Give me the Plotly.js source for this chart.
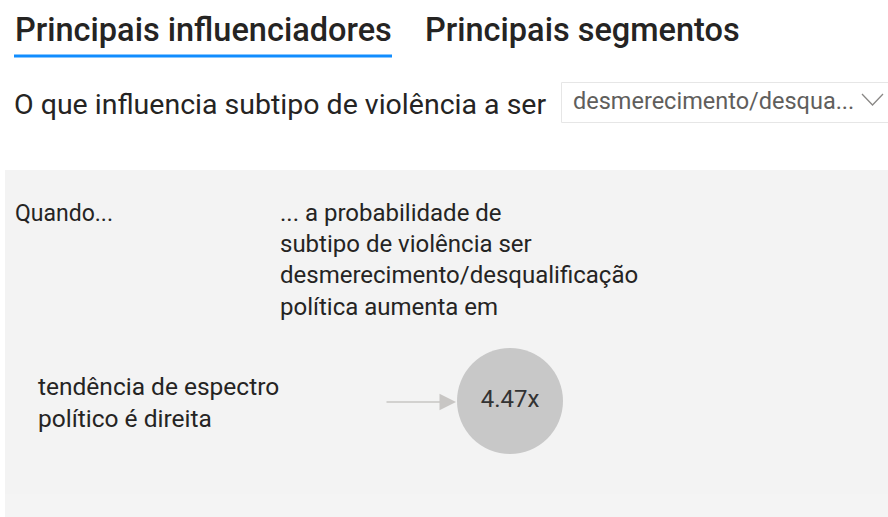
<!DOCTYPE html>
<html>
<head>
<meta charset="utf-8">
<script src="https://cdn.plot.ly/plotly-3.0.1.min.js"></script>
<style>
  html, body { margin: 0; padding: 0; background: #ffffff; }
  #chart { width: 888px; height: 517px; }
</style>
</head>
<body>
<div id="chart"></div>
<script>
// ---- data ----
const tabs = ['Principais influenciadores', 'Principais segmentos'];
const activeTab = 0;
const questionPrefix = 'O que influencia subtipo de violência a ser';
const selectedTarget = 'desmerecimento/desqua...';
const colWhen = 'Quando...';
const colEffect = ['... a probabilidade de', 'subtipo de violência ser', 'desmerecimento/desqualificação', 'política aumenta em'];
const influencers = [['tendência de espectro', 'político é direita']];
const multipliers = [4.47];

// ---- style ----
const FONT = 'Roboto, "Noto Sans", sans-serif';
const TXT = '#252423';
const W = 888, H = 517;
const rowTop = 401, rowStep = 110, bubbleX = 510;

const shapes = [
  // panel
  {type: 'rect', xref: 'x', yref: 'y', x0: 5, x1: 888, y0: 170, y1: 517, fillcolor: '#F3F3F3', line: {width: 0}, layer: 'below'},
  {type: 'rect', xref: 'x', yref: 'y', x0: 5, x1: 888, y0: 494, y1: 517, fillcolor: '#F4F4F4', line: {width: 0}, layer: 'below'},
  // active tab underline
  {type: 'rect', xref: 'x', yref: 'y', x0: 14, x1: 392, y0: 54.5, y1: 57.5, fillcolor: '#118DFF', line: {width: 0}},
  // dropdown
  {type: 'rect', xref: 'x', yref: 'y', x0: 561.5, x1: 890, y0: 82.5, y1: 122.5, fillcolor: '#ffffff', line: {color: '#E6E6E6', width: 1}},
  {type: 'path', xref: 'x', yref: 'y', path: 'M 862 94 L 872.5 105 L 883 94', line: {color: '#8A8886', width: 1.3}}
];

const annotations = [];
// tabs
annotations.push({text: tabs[0], x: 13, y: 30, xanchor: 'left', yanchor: 'middle', showarrow: false,
  font: {family: FONT, size: 32.5, color: TXT, weight: 500}});
annotations.push({text: tabs[1], x: 423, y: 30, xanchor: 'left', yanchor: 'middle', showarrow: false,
  font: {family: FONT, size: 32.5, color: TXT, weight: 500}});
// question
annotations.push({text: questionPrefix, x: 12, y: 104, xanchor: 'left', yanchor: 'middle', showarrow: false,
  font: {family: FONT, size: 28.5, color: TXT}});
annotations.push({text: selectedTarget, x: 571, y: 101, xanchor: 'left', yanchor: 'middle', showarrow: false,
  font: {family: FONT, size: 23.5, color: '#605E5C'}});
// headers
annotations.push({text: colWhen, x: 13, y: 213, xanchor: 'left', yanchor: 'middle', showarrow: false,
  font: {family: FONT, size: 23, color: TXT}});
annotations.push({text: colEffect.join('<br>'), x: 278, y: 197, xanchor: 'left', yanchor: 'top', align: 'left', showarrow: false,
  font: {family: FONT, size: 24, color: TXT}});
// rows
influencers.forEach((lab, i) => {
  const yc = rowTop + i * rowStep;
  annotations.push({text: lab.join('<br>'), x: 36, y: yc + 1, xanchor: 'left', yanchor: 'middle', align: 'left', showarrow: false,
    font: {family: FONT, size: 24.5, color: TXT}});
  annotations.push({x: 456, y: yc + 1, ax: 385, ay: yc + 1, xref: 'x', yref: 'y', axref: 'x', ayref: 'y', text: '',
    showarrow: true, arrowhead: 2, arrowsize: 2.2, arrowwidth: 1.5, arrowcolor: '#C8C6C4'});
});

const trace = {
  type: 'scatter',
  mode: 'markers+text',
  x: multipliers.map(() => bubbleX),
  y: multipliers.map((v, i) => rowTop + i * rowStep),
  text: multipliers.map(v => v.toFixed(2) + 'x'),
  textposition: 'middle center',
  textfont: {family: FONT, size: 24, color: '#333333'},
  marker: {size: 106, color: '#C8C8C8', line: {width: 0}},
  hoverinfo: 'skip',
  cliponaxis: false
};

const layout = {
  width: W, height: H,
  margin: {l: 0, r: 0, t: 0, b: 0},
  paper_bgcolor: '#ffffff', plot_bgcolor: 'rgba(0,0,0,0)',
  showlegend: false,
  xaxis: {range: [0, W], visible: false, fixedrange: true},
  yaxis: {range: [H, 0], visible: false, fixedrange: true},
  shapes: shapes,
  annotations: annotations
};

Plotly.newPlot('chart', [trace], layout, {displayModeBar: false, staticPlot: true});
</script>
</body>
</html>
